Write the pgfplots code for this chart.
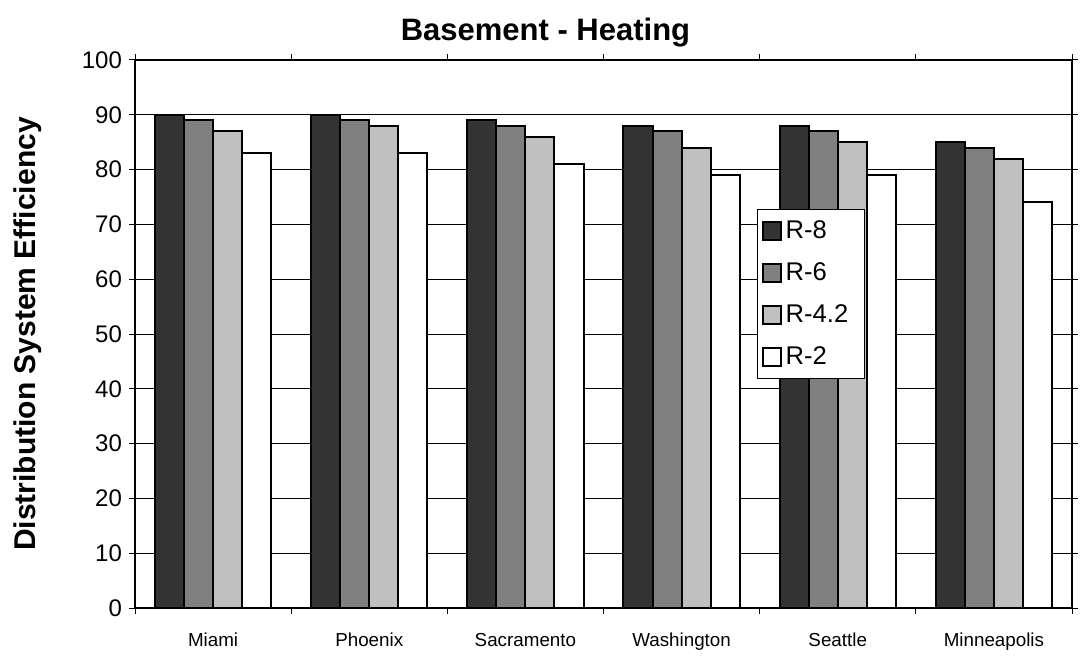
\documentclass[border=0pt]{standalone}
\usepackage{pgfplots}
\pgfplotsset{compat=1.18}
\usepackage{fontspec}
\setmainfont{Liberation Sans}
\usetikzlibrary{calc}
\definecolor{rEight}{HTML}{333333}
\definecolor{rSix}{HTML}{808080}
\definecolor{rFour}{HTML}{C0C0C0}
\begin{document}
\begin{tikzpicture}
\begin{axis}[
  scale only axis, width=468.5pt, height=274pt,
  ybar=0pt, bar width=0.186,
  xmin=-0.5, xmax=5.5, ymin=0, ymax=100,
  xtick={0,...,5},
  xticklabels={Miami,Phoenix,Sacramento,Washington,Seattle,Minneapolis},
  x tick label style={font=\fontsize{9.4}{11}\selectfont, yshift=-6pt},
  major x tick style={draw=none},
  minor xtick={-0.5,0.5,...,5.5},
  minor tick length=3pt,
  ytick={0,10,...,100},
  y tick label style={font=\fontsize{12}{14}\selectfont},
  /pgf/number format/assume math mode=true,
  tick align=outside, major tick length=3pt,
  tick style={black, line width=0.5pt},
  ymajorgrids, grid style={black, line width=0.5pt},
  axis line style={black, line width=0.6pt},
  title={\bfseries Basement - Heating},
  title style={font=\fontsize{15.5}{17}\selectfont, xshift=-29pt, yshift=-3pt},
  ylabel={\bfseries Distribution System Efficiency},
  ylabel style={font=\fontsize{15}{17}\selectfont, yshift=13pt},
  legend cell align=left,
  legend style={at={(0.664,0.728)}, anchor=north west, draw=black,
    line width=0.5pt, font=\fontsize{12.8}{15}\selectfont,
    row sep=6.5pt, inner xsep=2pt, inner ysep=3.5pt},
  legend image code/.code={\draw[#1, line width=1pt] (0pt,-4.5pt) rectangle (9pt,4.5pt);},
  every axis plot/.append style={draw=black, line width=1pt},
]
\addplot[fill=rEight] coordinates {(0,90) (1,90) (2,89) (3,88) (4,88) (5,85)};
\addplot[fill=rSix] coordinates {(0,89) (1,89) (2,88) (3,87) (4,87) (5,84)};
\addplot[fill=rFour] coordinates {(0,87) (1,88) (2,86) (3,84) (4,85) (5,82)};
\addplot[fill=white] coordinates {(0,83) (1,83) (2,81) (3,79) (4,79) (5,74)};
\legend{R-8,R-6,R-4.2\hspace*{4pt},R-2}
\end{axis}
\path ($(current axis.south west)+(-67.5pt,-23pt)$) rectangle ($(current axis.north east)+(5pt,30pt)$);
\end{tikzpicture}
\end{document}
